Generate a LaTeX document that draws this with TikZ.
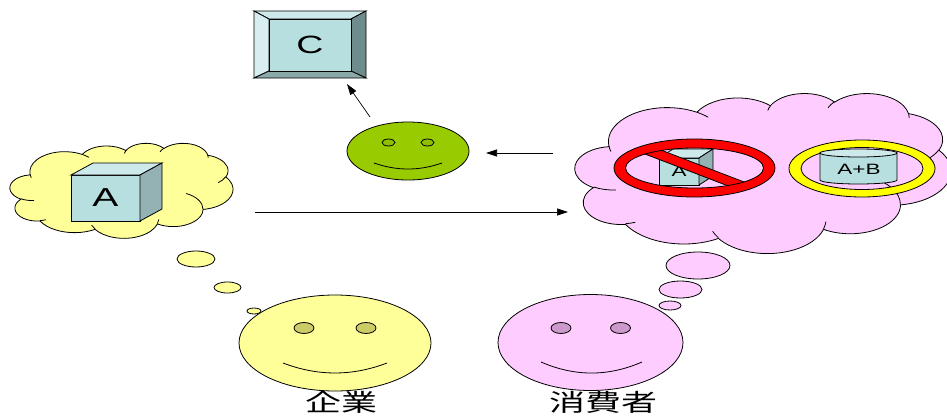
\documentclass[tikz,border=0pt]{standalone}
\usepackage{fontspec}
\usepackage{graphicx}
\setmainfont{Liberation Sans}
\newfontfamily\cjkfont{Noto Sans CJK JP}
\usetikzlibrary{arrows.meta}

\definecolor{thinkyellow}{HTML}{FFFF99}
\definecolor{thinkpink}{HTML}{FFCCFF}
\definecolor{facegreen}{HTML}{99CC00}
\definecolor{eyegreen}{HTML}{8FBF00}
\definecolor{eyeolive}{HTML}{CCCC66}
\definecolor{eyemauve}{HTML}{CC99CC}
\definecolor{boxfront}{HTML}{B8DFE0}
\definecolor{boxtop}{HTML}{CDE9EA}
\definecolor{boxside}{HTML}{94B2B4}
\definecolor{bevlight}{HTML}{D8EEF0}
\definecolor{bevdark}{HTML}{6F8C8D}
\definecolor{bevmid}{HTML}{8CA9AA}
\definecolor{ringred}{HTML}{FF0000}
\definecolor{ringyellow}{HTML}{FFFF00}

% elliptical arc whose angles are given as visual (not parametric) angles
\newcommand\carc[4]{arc[x radius=#1, y radius=#2, start angle={vt(#3,#1,#2)}, delta angle={dt(#3,#4,#1,#2)}]}

% cloud outline on a 432 x 432 grid
\newcommand\cloudshape{(39.00,143.70)
  \carc{67.53}{91.90}{-190.4875}{123.7805}
  \carc{53.33}{72.67}{-144.1024}{89.9452}
  \carc{43.65}{59.45}{-145.8079}{99.7230}
  \carc{48.57}{65.95}{-130.9861}{117.2417}
  \carc{53.33}{72.73}{-78.7089}{109.0269}
  \carc{67.75}{92.20}{-46.2673}{130.2690}
  \carc{57.85}{78.67}{0.6250}{114.0333}
  \carc{67.52}{92.15}{22.4516}{115.1726}
  \carc{77.20}{105.43}{66.2426}{75.7110}
  \carc{43.60}{59.18}{-274.9421}{146.7356}
  \carc{43.45}{59.45}{-246.8285}{152.5189} -- cycle}

% short inner creases of the cloud
\newcommand\cloudcreases{
  (46.93,261.77) \carc{43.45}{59.45}{86.742}{26.4295}
  (69.28,348.99) \carc{43.60}{59.18}{73.6105}{11.4475}
  (164.78,390.90) \carc{67.52}{92.15}{137.6242}{14.0811}
  (288.27,347.51) \carc{67.52}{92.15}{6.4533}{15.9984}
  (341.29,229.54) \carc{57.85}{78.67}{-70.2924}{70.9174}
  (417.98,153.54) \carc{53.33}{72.73}{30.318}{27.7515}
  (383.24,54.26) \carc{48.57}{65.95}{-13.7443}{14.8589}
  (290.78,39.52) \carc{48.57}{65.95}{-149.1815}{18.1954}
  (221.41,47.20) \carc{43.65}{59.45}{-163.4943}{17.6864}
  (140.00,51.92) \carc{67.53}{91.90}{-66.707}{12.3194}
  (41.27,157.89) \carc{67.53}{91.90}{157.6544}{11.8582}}

% #1,#2 top-left corner, #3,#4 scale factors, #5 fill
\newcommand\thoughtcloud[5]{%
  \begin{scope}[shift={(#1,#2)}, xscale=#3, yscale=#4]
    \filldraw[fill=#5] \cloudshape;
    \draw \cloudcreases;
  \end{scope}}

% cube: front face corner (#1,#2), width #3, height #4, depth (#5,#6)
\newcommand\drawcube[6]{%
  \filldraw[fill=boxfront] (#1,#2) rectangle ++(#3,#4);
  \filldraw[fill=boxtop] (#1,#2) -- ++(#5,-#6) -- ++(#3,0) -- ++(-#5,#6) -- cycle;
  \filldraw[fill=boxside] (#1+#3,#2) -- ++(#5,-#6) -- ++(0,#4) -- ++(-#5,#6) -- cycle;}

\begin{document}
\begin{tikzpicture}[x=1pt, y=-1pt, line width=0.8pt,
  declare function={
    vt(\ang,\rx,\ry)=atan2(sin(\ang)*\rx, cos(\ang)*\ry);
    dt(\ang,\swp,\rx,\ry)=\swp+mod(vt(\ang+\swp,\rx,\ry)-vt(\ang,\rx,\ry)-\swp+540,360)-180;},
  conn/.style={draw, line width=0.7pt, -{Triangle[length=11pt, width=7pt]}},
  lbl/.style={inner sep=0pt},
  bubble/.style={draw, line width=0.8pt}]

\useasboundingbox (0,0) rectangle (947,415);

% ---------- bevelled box C ----------
\filldraw[fill=boxtop] (254,11) -- (366,11) -- (351,19) -- (269,19) -- cycle;
\filldraw[fill=bevlight] (254,11) -- (269,19) -- (269,71) -- (254,78) -- cycle;
\filldraw[fill=bevdark] (366,11) -- (366,78) -- (351,71) -- (351,19) -- cycle;
\filldraw[fill=bevmid] (254,78) -- (366,78) -- (351,71) -- (269,71) -- cycle;
\filldraw[fill=boxfront] (269,19) rectangle (351,71);
\node[lbl, font=\fontsize{25}{25}\selectfont] (cText) at (310,45) {\scalebox{1.5}[1]{C}};

% ---------- green face ----------
\filldraw[fill=facegreen] (408,151) ellipse[x radius=61, y radius=29];
\filldraw[fill=eyegreen] (388.5,142.5) ellipse[x radius=6.5, y radius=3.5];
\filldraw[fill=eyegreen] (427.5,142.5) ellipse[x radius=6.5, y radius=3.5];
\draw (374,163) .. controls (396.7,171) and (419.3,171) .. (442,163);

% ---------- firm's thought ----------
\thoughtcloud{10}{143}{0.51620}{0.21991}{thinkyellow}
\drawcube{71}{175}{69}{46}{22}{12}
\node[lbl, font=\fontsize{26}{26}\selectfont] (aBig) at (105.5,198) {\scalebox{1.5}[1]{A}};

\filldraw[bubble, fill=thinkyellow] (196,259) ellipse[x radius=19, y radius=8];
\filldraw[bubble, fill=thinkyellow] (227.5,287.5) ellipse[x radius=13.5, y radius=5.5];
\filldraw[bubble, fill=thinkyellow] (254,311) ellipse[x radius=7, y radius=3];

% ---------- consumer's thought ----------
\thoughtcloud{575}{93}{0.87037}{0.37037}{thinkpink}

\drawcube{659}{158}{40}{27}{14}{9}
\node[lbl, font=\fontsize{15}{15}\selectfont] (aSmall) at (679,171.5) {\scalebox{1.5}[1]{A}};
\begin{scope}
  \clip (694.5,168) ellipse[x radius=69, y radius=20];
  \filldraw[fill=ringred, rotate around={-21:(694.5,168)}] (604.5,163.3) rectangle (784.5,172.7);
\end{scope}
\fill[ringred, even odd rule] (694.5,168) ellipse[x radius=80.5, y radius=29]
  (694.5,168) ellipse[x radius=69, y radius=20];
\draw (694.5,168) ellipse[x radius=80.5, y radius=29];
\draw (694.5,168) ellipse[x radius=69, y radius=20];

\fill[ringyellow, even odd rule] (862,168.5) ellipse[x radius=73, y radius=28.5]
  (862,168.5) ellipse[x radius=61, y radius=21];
\draw (862,168.5) ellipse[x radius=73, y radius=28.5];
\draw (862,168.5) ellipse[x radius=61, y radius=21];
\filldraw[fill=boxfront] (820,153) -- (820,180)
  arc[start angle=180, end angle=0, x radius=38.5, y radius=4] -- (897,153) -- cycle;
\filldraw[fill=boxtop] (858.5,153) ellipse[x radius=38.5, y radius=4];
\node[lbl, font=\fontsize{15}{15}\selectfont] (abText) at (859,169) {\scalebox{1.5}[1]{A+B}};

\filldraw[bubble, fill=thinkpink] (698,265.5) ellipse[x radius=32, y radius=13.5];
\filldraw[bubble, fill=thinkpink] (680.5,289.5) ellipse[x radius=21.5, y radius=8.5];
\filldraw[bubble, fill=thinkpink] (670,305.5) ellipse[x radius=11, y radius=4.5];

% ---------- firm ----------
\filldraw[fill=thinkyellow] (335,343) ellipse[x radius=96, y radius=48];
\filldraw[fill=eyeolive] (304,328) ellipse[x radius=10, y radius=5.5];
\filldraw[fill=eyeolive] (366,328) ellipse[x radius=10, y radius=5.5];
\draw (283,363) .. controls (317.7,376.3) and (352.3,376.3) .. (387,363);
\node[lbl, anchor=base] (firm) at (341,411)
  {\cjkfont\fontsize{24}{24}\selectfont\scalebox{1.5}[1]{企業}};

% ---------- consumer ----------
\filldraw[fill=thinkpink] (590.5,342.5) ellipse[x radius=92.5, y radius=48];
\filldraw[fill=eyemauve] (561,328) ellipse[x radius=10, y radius=5.5];
\filldraw[fill=eyemauve] (620.5,328) ellipse[x radius=10, y radius=5.5];
\draw (541,362) .. controls (574.7,376.7) and (608.3,376.7) .. (642,362);
\node[lbl, anchor=base] (consumer) at (603,411)
  {\cjkfont\fontsize{24}{24}\selectfont\scalebox{1.5}[1]{消費者}};

% ---------- connectors ----------
\coordinate (planFrom) at (255,212);
\coordinate (planTo) at (568,212);
\coordinate (needFrom) at (553,153);
\coordinate (needTo) at (486,153);
\coordinate (ideaFrom) at (370,117);
\coordinate (ideaTo) at (347,84);
\draw[conn] (planFrom) -- (planTo);
\draw[conn] (needFrom) -- (needTo);
\draw[conn] (ideaFrom) -- (ideaTo);
\end{tikzpicture}
\end{document}
